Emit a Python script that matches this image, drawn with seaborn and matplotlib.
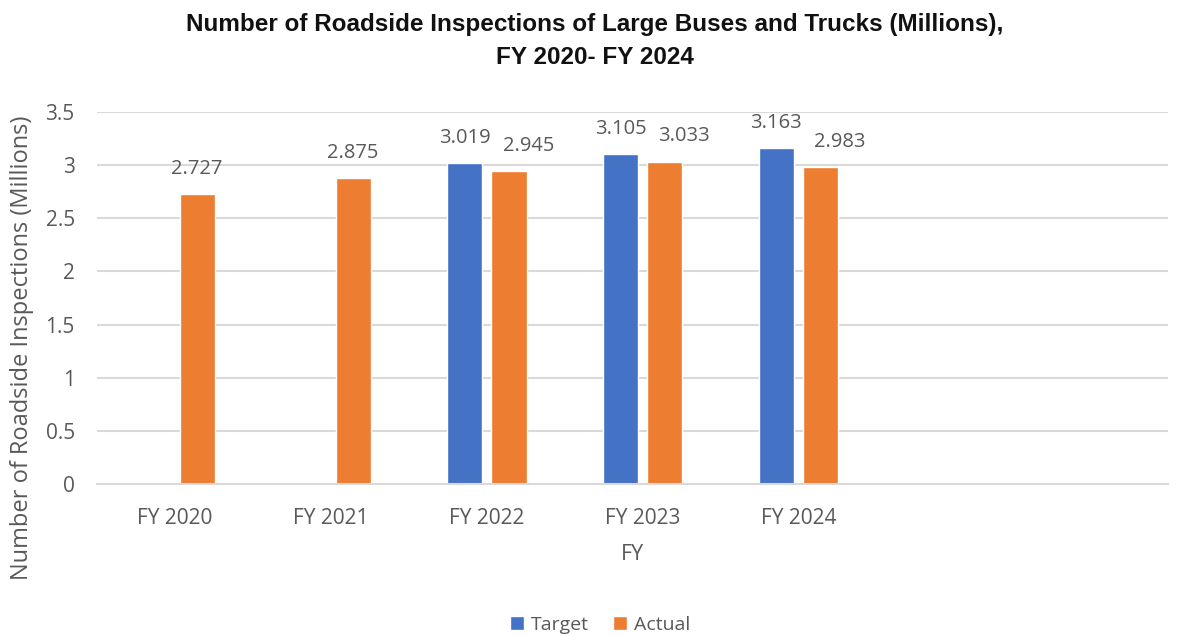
import numpy as np
import pandas as pd
import matplotlib
matplotlib.use("Agg")
import matplotlib.pyplot as plt
import seaborn as sns
from matplotlib.font_manager import fontManager

years = ["FY 2020", "FY 2021", "FY 2022", "FY 2023", "FY 2024"]
target = [np.nan, np.nan, 3.019, 3.105, 3.163]
actual = [2.727, 2.875, 2.945, 3.033, 2.983]
series = ["Target", "Actual"]
colors = ["#4472C4", "#ED7D31"]

sns.set_style("white")
names = {f.name for f in fontManager.ttflist}
body_font = "Open Sans" if "Open Sans" in names else "DejaVu Sans"
narrow = [n for n in ["Liberation Sans Narrow", "DejaVu Sans Condensed"] if n in names]
title_font = narrow[0] if narrow else "Liberation Sans"
title_size = 20 if narrow else 17.5
plt.rcParams["font.family"] = [body_font, "DejaVu Sans"]

rows = []
for y, t, a in zip(years, target, actual):
    rows.append({"FY": y, "Series": "Target", "Value": t})
    rows.append({"FY": y, "Series": "Actual", "Value": a})
df = pd.DataFrame(rows)

fig = plt.figure(figsize=(11.82, 6.36), dpi=100)
ax = fig.add_axes([97 / 1182, 1 - 484 / 636, (1168 - 97) / 1182, (484 - 112) / 636])

sns.barplot(data=df.dropna(), x="FY", y="Value", hue="Series", order=years,
            hue_order=series, palette=colors, width=0.57, gap=0.21,
            saturation=1, ax=ax, legend=True, errorbar=None)

# value labels above each bar; actual labels nudge right when a target bar sits beside them
for cont, name in zip(ax.containers, series):
    for bar in cont:
        h = bar.get_height()
        if np.isnan(h) or h == 0:
            continue
        idx = int(round(bar.get_x() + bar.get_width() / 2))
        dx = 14 if (name == "Actual" and not np.isnan(target[idx])) else 0
        ax.annotate(f"{h:.3f}", (bar.get_x() + bar.get_width() / 2, h),
                    xytext=(dx, 11), textcoords="offset points",
                    ha="center", va="bottom", fontsize=14.5, color="#595959")

ax.set_xlim(-0.5, 6.37)
ax.set_ylim(0, 3.5)
ax.set_yticks(np.arange(0, 3.51, 0.5))
ax.set_yticklabels(["0", "0.5", "1", "1.5", "2", "2.5", "3", "3.5"])
ax.yaxis.grid(True, color="#d9d9d9", linewidth=1.5)
ax.set_axisbelow(True)
for s in ["top", "right", "left"]:
    ax.spines[s].set_visible(False)
ax.spines["bottom"].set_color("#d9d9d9")
ax.spines["bottom"].set_linewidth(1.5)
ax.tick_params(axis="both", length=0, labelsize=15, colors="#595959")
ax.tick_params(axis="y", pad=16)
ax.tick_params(axis="x", pad=17)

ax.set_xlabel("FY", fontsize=15.5, color="#595959", labelpad=11)
ax.set_ylabel("")
fig.text(22 / 1182, 1 - 348 / 636, "Number of Roadside Inspections (Millions)",
         rotation=90, ha="center", va="center", fontsize=17, color="#595959")

handles, labels = ax.get_legend_handles_labels()
ax.legend(handles, labels, loc="center", bbox_to_anchor=(600 / 1182, 1 - 625 / 636),
          bbox_transform=fig.transFigure, ncol=2, frameon=False, fontsize=14,
          labelcolor="#595959", handlelength=0.75, handleheight=0.75,
          handletextpad=0.35, columnspacing=1.2)

fig.text(595 / 1182, 1 - 41 / 636,
         "Number of Roadside Inspections of Large Buses and Trucks (Millions),\nFY 2020- FY 2024",
         ha="center", va="center", fontsize=title_size, fontweight="bold",
         family=[title_font, "DejaVu Sans"], color="#111111", linespacing=1.6)

fig.savefig("out.png", dpi=100)
